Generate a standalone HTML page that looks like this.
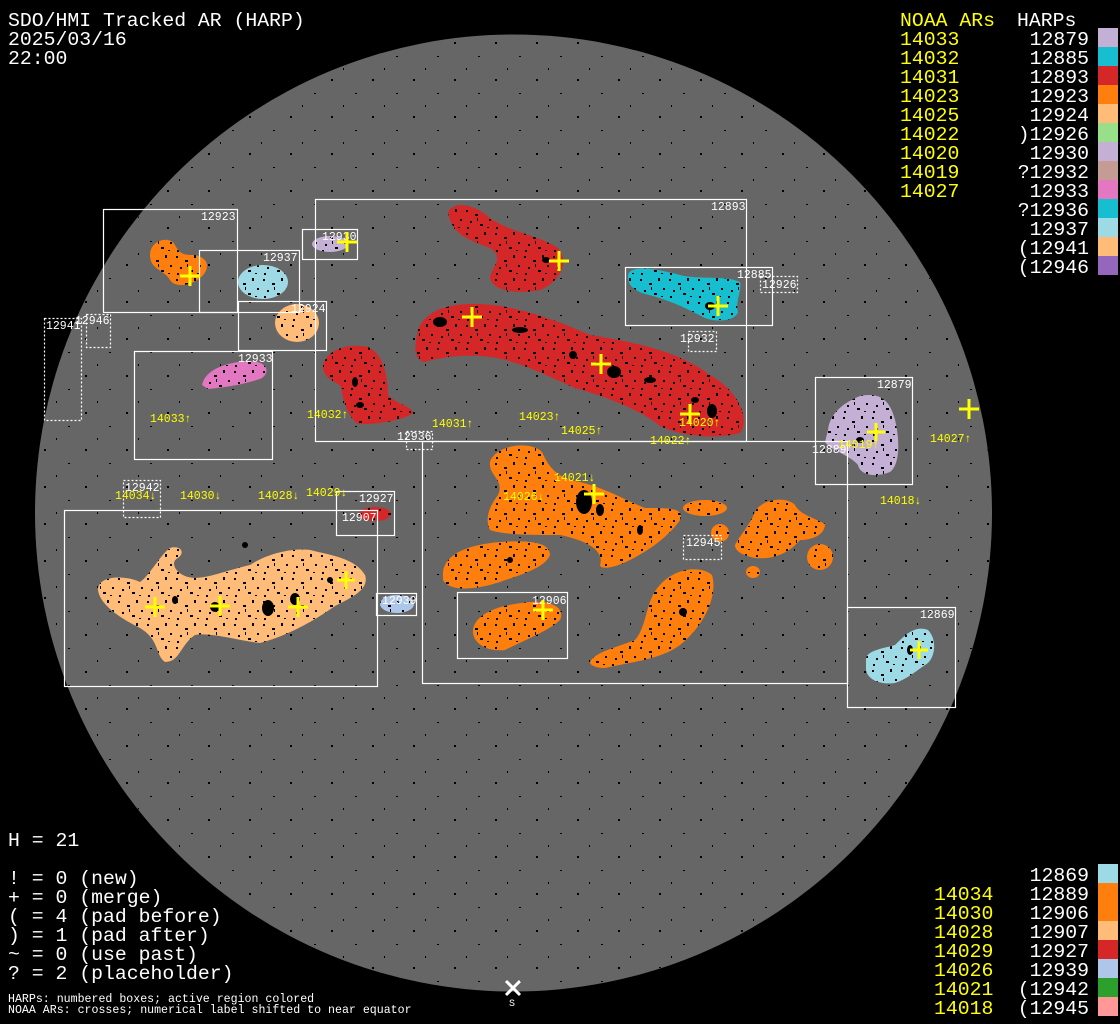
<!DOCTYPE html>
<html><head><meta charset="utf-8"><style>
html,body{margin:0;padding:0;background:#000;}
svg{display:block;}
text{font-family:"Liberation Mono","DejaVu Sans Mono",monospace;}
.big{font-size:19.8px;fill:#fff;}
.y{fill:#ffff00;}
.lbl{font-size:11.5px;fill:#fff;}
.ylb{font-size:11.5px;fill:#ffff00;}
.bx{fill:none;stroke:#fff;stroke-width:1.2;}
.dt{fill:none;stroke:#fff;stroke-width:1.2;stroke-dasharray:2 2;}
.cr{stroke:#ffff00;stroke-width:3;}
</style></head><body>
<svg width="1120" height="1024" viewBox="0 0 1120 1024" xmlns="http://www.w3.org/2000/svg">
<defs>
<pattern id="sp" width="29" height="23" patternUnits="userSpaceOnUse">
<rect x="2" y="3" width="2" height="2"/><rect x="11" y="7" width="3" height="2"/><rect x="20" y="2" width="2" height="3"/>
<rect x="6" y="14" width="2" height="2"/><rect x="16" y="17" width="3" height="2"/><rect x="25" y="12" width="2" height="2"/>
<rect x="13" y="11" width="1" height="3"/><rect x="23" y="20" width="2" height="1"/><rect x="3" y="20" width="2" height="2"/>
</pattern>
<pattern id="sp2" width="41" height="37" patternUnits="userSpaceOnUse">
<rect x="3" y="5" width="2" height="2"/><rect x="27" y="19" width="2" height="1"/><rect x="15" y="31" width="1" height="2"/>
</pattern>
<filter id="wh"><feColorMatrix type="matrix" values="0 0 0 0 1 0 0 0 0 1 0 0 0 0 1 0 0 0 1 0"/></filter>
<mask id="bm"><use href="#blobs" filter="url(#wh)"/></mask>
<clipPath id="disk"><circle cx="513.5" cy="513" r="478"/></clipPath>
</defs>
<rect width="1120" height="1024" fill="#000"/>
<circle cx="513.5" cy="513" r="478.5" fill="#666"/>
<rect x="35" y="35" width="958" height="956" fill="url(#sp2)" clip-path="url(#disk)"/>

<!-- blobs -->
<g id="blobs" stroke="none">
<path fill="#d62728" d="M448,212 C455,200 475,205 490,218 C510,232 540,236 558,248 C570,262 560,282 540,290 C515,295 492,290 490,278 C492,266 505,258 490,248 C470,240 452,236 448,212Z"/>
<path fill="#d62728" d="M418,330 C425,310 450,303 480,304 C520,306 555,320 590,335 C635,342 680,352 710,375 C740,392 750,420 740,433 C715,440 680,436 660,426 C640,410 610,398 575,388 C545,375 515,358 480,356 C455,355 440,358 425,362 C412,360 415,345 418,330Z"/>
<path fill="#d62728" d="M323,365 C328,348 350,343 368,347 C385,355 388,380 388,395 C398,405 413,407 413,413 C405,420 375,425 358,424 C345,415 343,395 340,385 C330,380 322,375 323,365Z"/>
<path fill="#17becf" d="M628,275 C630,265 655,268 680,275 C700,280 725,275 740,282 C742,292 735,300 738,312 C735,322 715,322 705,318 C690,310 670,300 645,294 C632,290 627,283 628,275Z"/>
<path fill="#ff7f0e" d="M150,255 C150,240 170,235 175,245 C180,255 185,255 195,255 C210,258 210,270 200,278 C190,286 175,288 170,280 C165,270 150,270 150,255Z"/>
<ellipse fill="#9edae5" cx="263" cy="282" rx="25" ry="17"/>
<ellipse fill="#ffbb78" cx="297" cy="323" rx="22" ry="19"/>
<ellipse fill="#c5b0d5" cx="330" cy="244" rx="18" ry="8"/>
<path fill="#e377c2" d="M202,385 C205,370 225,362 250,361 C268,362 270,372 262,378 C250,383 230,387 208,389Z"/>
<path fill="#c5b0d5" d="M828,430 C830,410 850,400 860,396 C880,392 890,400 895,420 C900,440 900,465 890,472 C875,478 860,475 858,465 C850,455 830,450 825,442Z"/>
<path fill="#9edae5" d="M866,658 C868,650 885,648 895,645 C905,635 915,625 928,630 C938,640 935,660 925,665 C915,672 905,680 895,683 C880,685 868,680 866,670Z"/>
<path fill="#ffbb78" d="M98,590 C98,575 125,575 140,582 C150,575 160,555 170,548 C180,545 186,552 178,558 C170,562 175,572 185,576 C200,582 220,572 250,565 C270,552 295,548 310,550 C330,555 355,558 365,575 C370,590 350,598 335,606 C315,620 290,635 260,643 C235,640 210,632 195,635 C180,645 180,662 165,662 C155,655 160,640 140,628 C120,618 100,605 98,590Z"/>
<ellipse fill="#d62728" cx="375" cy="514" rx="16" ry="7"/>
<ellipse fill="#aec7e8" cx="397" cy="604" rx="17" ry="9"/>
<path fill="#ff7f0e" d="M490,462 C495,445 530,440 542,452 C548,465 555,478 580,482 C605,488 625,500 645,508 C670,508 685,508 680,520 C670,535 650,550 630,560 C615,568 600,570 600,565 C605,550 585,540 560,535 C530,535 505,535 490,530 C485,520 488,508 498,495 C505,480 488,475 490,462Z"/>
<path fill="#ff7f0e" d="M443,572 C445,555 465,545 500,542 C530,540 550,542 550,555 C545,568 520,575 500,582 C475,590 450,592 443,580Z"/>
<path fill="#ff7f0e" d="M473,630 C475,615 495,605 530,602 C555,600 565,610 560,620 C550,630 525,640 505,650 C485,652 472,642 473,630Z"/>
<path fill="#ff7f0e" d="M590,662 C595,652 615,648 635,640 C648,625 645,600 660,585 C675,568 700,565 712,575 C718,595 705,625 680,645 C660,660 630,662 605,668 C595,668 590,665 590,662Z"/>
<ellipse fill="#ff7f0e" cx="705" cy="508" rx="22" ry="8"/>
<ellipse fill="#ff7f0e" cx="720" cy="533" rx="9" ry="9"/>
<ellipse fill="#ff7f0e" cx="753" cy="572" rx="7" ry="6"/>
<path fill="#ff7f0e" d="M735,545 C740,535 750,525 755,512 C760,500 785,495 795,505 C800,515 815,518 825,524 C825,535 812,540 800,540 C790,552 775,560 755,558 C740,555 735,550 735,545Z"/>
<ellipse fill="#ff7f0e" cx="820" cy="557" rx="13" ry="13"/>
</g>
<rect x="0" y="0" width="1000" height="1000" fill="url(#sp)" mask="url(#bm)"/>

<g fill="#000">
<ellipse cx="440" cy="322" rx="7" ry="5"/><ellipse cx="614" cy="372" rx="7" ry="6"/><ellipse cx="573" cy="355" rx="4" ry="4"/>
<ellipse cx="712" cy="411" rx="5" ry="7"/><ellipse cx="584" cy="502" rx="8" ry="12"/><ellipse cx="710" cy="306" rx="5" ry="4"/>
<ellipse cx="268" cy="608" rx="6" ry="8"/><ellipse cx="215" cy="607" rx="5" ry="5"/><ellipse cx="295" cy="599" rx="5" ry="6"/>
<ellipse cx="546" cy="260" rx="4" ry="3"/><ellipse cx="860" cy="440" rx="4" ry="3"/><ellipse cx="910" cy="650" rx="3" ry="5"/>
<ellipse cx="520" cy="330" rx="8" ry="3"/><ellipse cx="650" cy="380" rx="6" ry="3"/><ellipse cx="695" cy="400" rx="4" ry="3"/>
<ellipse cx="355" cy="382" rx="3" ry="5"/><ellipse cx="360" cy="405" rx="4" ry="3"/><ellipse cx="640" cy="530" rx="3" ry="5"/>
<ellipse cx="600" cy="510" rx="4" ry="6"/><ellipse cx="510" cy="560" rx="3" ry="3"/><ellipse cx="683" cy="612" rx="4" ry="4"/>
<ellipse cx="175" cy="600" rx="3" ry="4"/><ellipse cx="330" cy="580" rx="3" ry="3"/><ellipse cx="245" cy="545" rx="3" ry="3"/>
</g>

<rect class="bx" x="103.5" y="209.5" width="134" height="103"/>
<rect class="bx" x="199.5" y="250.5" width="100" height="62"/>
<rect class="bx" x="302.5" y="229.5" width="55" height="30"/>
<rect class="bx" x="238.5" y="301.5" width="88" height="49"/>
<rect class="bx" x="315.5" y="199.5" width="431" height="242"/>
<rect class="bx" x="625.5" y="267.5" width="147" height="58"/>
<rect class="dt" x="760.5" y="276.5" width="37" height="16"/>
<rect class="dt" x="688.5" y="331.5" width="28" height="20"/>
<rect class="dt" x="44.5" y="318.5" width="37" height="102"/>
<rect class="dt" x="86.5" y="314.5" width="24" height="33"/>
<rect class="bx" x="134.5" y="351.5" width="138" height="108"/>
<rect class="dt" x="406.5" y="431.5" width="26" height="18"/>
<rect class="bx" x="815.5" y="377.5" width="97" height="107"/>
<rect class="bx" x="422.5" y="441.5" width="425" height="242"/>
<rect class="dt" x="123.5" y="480.5" width="37" height="37"/>
<rect class="bx" x="336.5" y="491.5" width="58" height="44"/>
<rect class="bx" x="64.5" y="510.5" width="313" height="176"/>
<rect class="bx" x="376.5" y="593.5" width="40" height="22"/>
<rect class="bx" x="457.5" y="592.5" width="110" height="66"/>
<rect class="dt" x="683.5" y="535.5" width="38" height="24"/>
<rect class="bx" x="847.5" y="607.5" width="108" height="100"/>

<g class="lbl">
<text x="201" y="220">12923</text><text x="263" y="261">12937</text><text x="322" y="240">12930</text>
<text x="291" y="312">12924</text><text x="711" y="210">12893</text><text x="737" y="278">12885</text>
<text x="762" y="288">12926</text><text x="680" y="342">12932</text><text x="46" y="329">12941</text>
<text x="75" y="324">12946</text><text x="238" y="362">12933</text><text x="397" y="440">12936</text>
<text x="877" y="388">12879</text><text x="812" y="453">12889</text><text x="125" y="491">12942</text>
<text x="359" y="502">12927</text><text x="342" y="521">12907</text><text x="382" y="604">12939</text>
<text x="532" y="604">12906</text><text x="686" y="546">12945</text><text x="920" y="618">12869</text>
</g>

<g class="ylb">
<text x="150" y="422">14033↑</text><text x="307" y="418">14032↑</text><text x="432" y="427">14031↑</text>
<text x="519" y="420">14023↑</text><text x="561" y="434">14025↑</text><text x="650" y="444">14022↑</text>
<text x="679" y="426">14020↑</text><text x="838" y="448">14019↑</text><text x="930" y="442">14027↑</text>
<text x="880" y="504">14018↓</text><text x="554" y="481">14021↓</text><text x="503" y="500">14026↓</text>
<text x="115" y="499">14034↓</text><text x="180" y="499">14030↓</text><text x="258" y="499">14028↓</text>
<text x="306" y="496">14029↓</text>
</g>

<g class="cr">
<path d="M180,276h20M190,266v20"/><path d="M337,242h20M347,232v20"/><path d="M549,261h20M559,251v20"/>
<path d="M462,317h20M472,307v20"/><path d="M591,364h20M601,354v20"/><path d="M680,414h20M690,404v20"/>
<path d="M708,306h20M718,296v20"/><path d="M867,432h18M876,423v18"/><path d="M959,409h20M969,399v20"/>
<path d="M584,494h20M594,484v20"/><path d="M533,610h20M543,600v20"/><path d="M145,607h20M155,597v20"/>
<path d="M210,606h20M220,596v20"/><path d="M288,607h20M298,597v20"/><path d="M337,580h18M346,571v18"/>
<path d="M910,650h18M919,641v18"/>
</g>

<path d="M506,981l14,14M520,981l-14,14" stroke="#fff" stroke-width="3"/>
<text x="509" y="1006" style="font-size:10px;fill:#fff">S</text>

<text class="big" x="8" y="26">SDO/HMI Tracked AR (HARP)</text>
<text class="big" x="8" y="45">2025/03/16</text>
<text class="big" x="8" y="64">22:00</text>

<text class="big" x="8" y="846">H = 21</text>
<text class="big" x="8" y="884">! = 0 (new)</text>
<text class="big" x="8" y="903">+ = 0 (merge)</text>
<text class="big" x="8" y="922">( = 4 (pad before)</text>
<text class="big" x="8" y="941">) = 1 (pad after)</text>
<text class="big" x="8" y="960">~ = 0 (use past)</text>
<text class="big" x="8" y="979">? = 2 (placeholder)</text>
<text x="8" y="1002" style="font-size:11.6px;fill:#fff">HARPs: numbered boxes; active region colored</text>
<text x="8" y="1013" style="font-size:11.6px;fill:#fff">NOAA ARs: crosses; numerical label shifted to near equator</text>

<text class="big y" x="900" y="26">NOAA ARs</text>
<text class="big" x="1017" y="26">HARPs</text>
<g class="big" text-anchor="end">
<text x="1089" y="45">12879</text><text x="1089" y="64">12885</text><text x="1089" y="83">12893</text>
<text x="1089" y="102">12923</text><text x="1089" y="121">12924</text><text x="1089" y="140">)12926</text>
<text x="1089" y="159">12930</text><text x="1089" y="178">?12932</text><text x="1089" y="197">12933</text>
<text x="1089" y="216">?12936</text><text x="1089" y="235">12937</text><text x="1089" y="254">(12941</text>
<text x="1089" y="273">(12946</text>
</g>
<g class="big y">
<text x="900" y="45">14033</text><text x="900" y="64">14032</text><text x="900" y="83">14031</text>
<text x="900" y="102">14023</text><text x="900" y="121">14025</text><text x="900" y="140">14022</text>
<text x="900" y="159">14020</text><text x="900" y="178">14019</text><text x="900" y="197">14027</text>
</g>
<g>
<rect x="1098" y="28" width="20" height="19" fill="#c5b0d5"/>
<rect x="1098" y="47" width="20" height="19" fill="#17becf"/>
<rect x="1098" y="66" width="20" height="19" fill="#d62728"/>
<rect x="1098" y="85" width="20" height="19" fill="#ff7f0e"/>
<rect x="1098" y="104" width="20" height="19" fill="#ffbb78"/>
<rect x="1098" y="123" width="20" height="19" fill="#98df8a"/>
<rect x="1098" y="142" width="20" height="19" fill="#c5b0d5"/>
<rect x="1098" y="161" width="20" height="19" fill="#c49c94"/>
<rect x="1098" y="180" width="20" height="19" fill="#e377c2"/>
<rect x="1098" y="199" width="20" height="19" fill="#17becf"/>
<rect x="1098" y="218" width="20" height="19" fill="#9edae5"/>
<rect x="1098" y="237" width="20" height="19" fill="#ffbb78"/>
<rect x="1098" y="256" width="20" height="19" fill="#9467bd"/>
</g>

<g class="big" text-anchor="end">
<text x="1089" y="881">12869</text><text x="1089" y="900">12889</text><text x="1089" y="919">12906</text>
<text x="1089" y="938">12907</text><text x="1089" y="957">12927</text><text x="1089" y="976">12939</text>
<text x="1089" y="995">(12942</text><text x="1089" y="1014">(12945</text>
</g>
<g class="big y">
<text x="934" y="900">14034</text><text x="934" y="919">14030</text><text x="934" y="938">14028</text>
<text x="934" y="957">14029</text><text x="934" y="976">14026</text><text x="934" y="995">14021</text>
<text x="934" y="1014">14018</text>
</g>
<g>
<rect x="1098" y="864" width="20" height="19" fill="#9edae5"/>
<rect x="1098" y="883" width="20" height="19" fill="#ff7f0e"/>
<rect x="1098" y="902" width="20" height="19" fill="#ff7f0e"/>
<rect x="1098" y="921" width="20" height="19" fill="#ffbb78"/>
<rect x="1098" y="940" width="20" height="19" fill="#d62728"/>
<rect x="1098" y="959" width="20" height="19" fill="#aec7e8"/>
<rect x="1098" y="978" width="20" height="19" fill="#2ca02c"/>
<rect x="1098" y="997" width="20" height="19" fill="#ff9896"/>
</g>
</svg>
</body></html>
